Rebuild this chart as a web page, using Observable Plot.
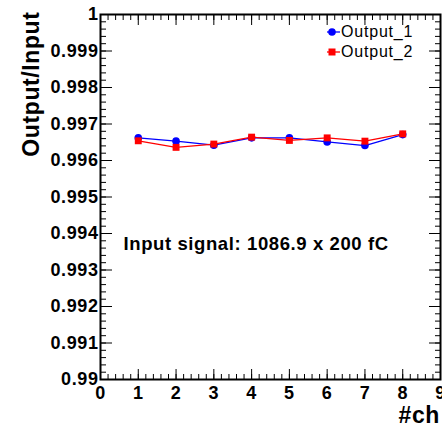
<!DOCTYPE html>
<html>
<head>
<meta charset="utf-8">
<script src="https://cdn.jsdelivr.net/npm/d3@7"></script>
<script src="https://cdn.jsdelivr.net/npm/@observablehq/plot@0.6"></script>
<style>
  body { margin: 0; background: white; }
  #wrap { position: relative; width: 442px; height: 427px; }
  #wrap svg text { letter-spacing: 0.6px; }
  .legend { position: absolute; left: 326px; top: 22px; font-family: "Liberation Sans", Arial, sans-serif; font-size: 16px; letter-spacing: 0.8px; color: black; }
  .legend .row { display: flex; align-items: center; height: 20px; }
  .legend svg { display: block; margin-right: 0px; }
</style>
</head>
<body>
<div id="wrap"></div>
<script>
// Channel numbers and measured output/input ratios
const channels = [1, 2, 3, 4, 5, 6, 7, 8];
const output1 = [0.99662, 0.99653, 0.99642, 0.99662, 0.99662, 0.99651, 0.99641, 0.99671];
const output2 = [0.99654, 0.99636, 0.99645, 0.99664, 0.99655, 0.99662, 0.99653, 0.99673];
const seriesNames = ["Output_1", "Output_2"];
const seriesColors = ["#0000ff", "#ff0000"];

// Axis tick values
const xMajor = [0, 1, 2, 3, 4, 5, 6, 7, 8, 9];
const yMajor = [0.99, 0.991, 0.992, 0.993, 0.994, 0.995, 0.996, 0.997, 0.998, 0.999, 1];
const xMinor = d3.range(0, 46).map(i => i * 0.2);
const yMinor = d3.range(0, 51).map(i => 0.99 + i * 0.0002);

const xTitle = "#ch";
const yTitle = "Output/Input";
const note = "Input signal: 1086.9 x 200 fC";

const rows1 = channels.map((c, i) => ({ch: c, v: output1[i]}));
const rows2 = channels.map((c, i) => ({ch: c, v: output2[i]}));

const fmtY = d => String(+d.toFixed(3));
const blank = () => "";

const chart = Plot.plot({
  width: 442,
  height: 427,
  marginLeft: 100,
  marginRight: 2,
  marginTop: 14,
  marginBottom: 48,
  x: {domain: [0, 9]},
  y: {domain: [0.99, 1]},
  style: {fontFamily: "'Liberation Sans', Arial, sans-serif", background: "white", color: "black"},
  marks: [
    // inward ticks on all four sides
    Plot.axisX(xMinor, {anchor: "bottom", tickSize: -5, tickFormat: blank, label: null}),
    Plot.axisX(xMajor, {anchor: "bottom", tickSize: -10, tickPadding: 17, tickFormat: d => String(d), label: null, fontSize: 18, fontWeight: "bold"}),
    Plot.axisX(xMinor, {anchor: "top", tickSize: -5, tickFormat: blank, label: null}),
    Plot.axisX(xMajor, {anchor: "top", tickSize: -10, tickFormat: blank, label: null}),
    Plot.axisY(yMinor, {anchor: "left", tickSize: -6, tickFormat: blank, label: null}),
    Plot.axisY(yMajor, {anchor: "left", tickSize: -12, tickPadding: 14, tickFormat: fmtY, label: null, fontSize: 18, fontWeight: "bold"}),
    Plot.axisY(yMinor, {anchor: "right", tickSize: -6, tickFormat: blank, label: null}),
    Plot.axisY(yMajor, {anchor: "right", tickSize: -12, tickFormat: blank, label: null}),
    Plot.frame({stroke: "black", strokeWidth: 2}),
    // series
    Plot.line(rows1, {x: "ch", y: "v", stroke: seriesColors[0], strokeWidth: 1.3}),
    Plot.dot(rows1, {x: "ch", y: "v", fill: seriesColors[0], r: 3.8, symbol: "circle"}),
    Plot.line(rows2, {x: "ch", y: "v", stroke: seriesColors[1], strokeWidth: 1.3}),
    Plot.dot(rows2, {x: "ch", y: "v", fill: seriesColors[1], r: 3.9, symbol: "square"}),
    // annotation and titles
    Plot.text([note], {text: d => d, frameAnchor: "left", dx: 23, dy: 47, textAnchor: "start", lineAnchor: "middle", fontSize: 18.5, fontWeight: "bold", fill: "black"}),
    Plot.text([yTitle], {text: d => d, frameAnchor: "top-left", dx: -62, dy: -3, rotate: -90, textAnchor: "end", lineAnchor: "bottom", fontSize: 23, fontWeight: "bold", fill: "black"}),
    Plot.text([xTitle], {text: d => d, frameAnchor: "bottom-right", dx: -42, dy: 43, textAnchor: "start", lineAnchor: "bottom", fontSize: 23, fontWeight: "bold", fill: "black"})
  ]
});

const wrap = document.getElementById("wrap");
wrap.appendChild(chart);

// legend box in the upper right corner of the frame
const legend = document.createElement("div");
legend.className = "legend";
seriesNames.forEach((name, i) => {
  const row = document.createElement("div");
  row.className = "row";
  const marker = i === 0
    ? `<circle cx="6" cy="10" r="3.8" fill="${seriesColors[i]}"/>`
    : `<rect x="2.5" y="6.5" width="7" height="7" fill="${seriesColors[i]}"/>`;
  row.innerHTML = `<svg width="15" height="20"><line x1="1" x2="14" y1="10" y2="10" stroke="${seriesColors[i]}" stroke-width="1.3"/>${marker}</svg><span>${name}</span>`;
  legend.appendChild(row);
});
wrap.appendChild(legend);
</script>
</body>
</html>
